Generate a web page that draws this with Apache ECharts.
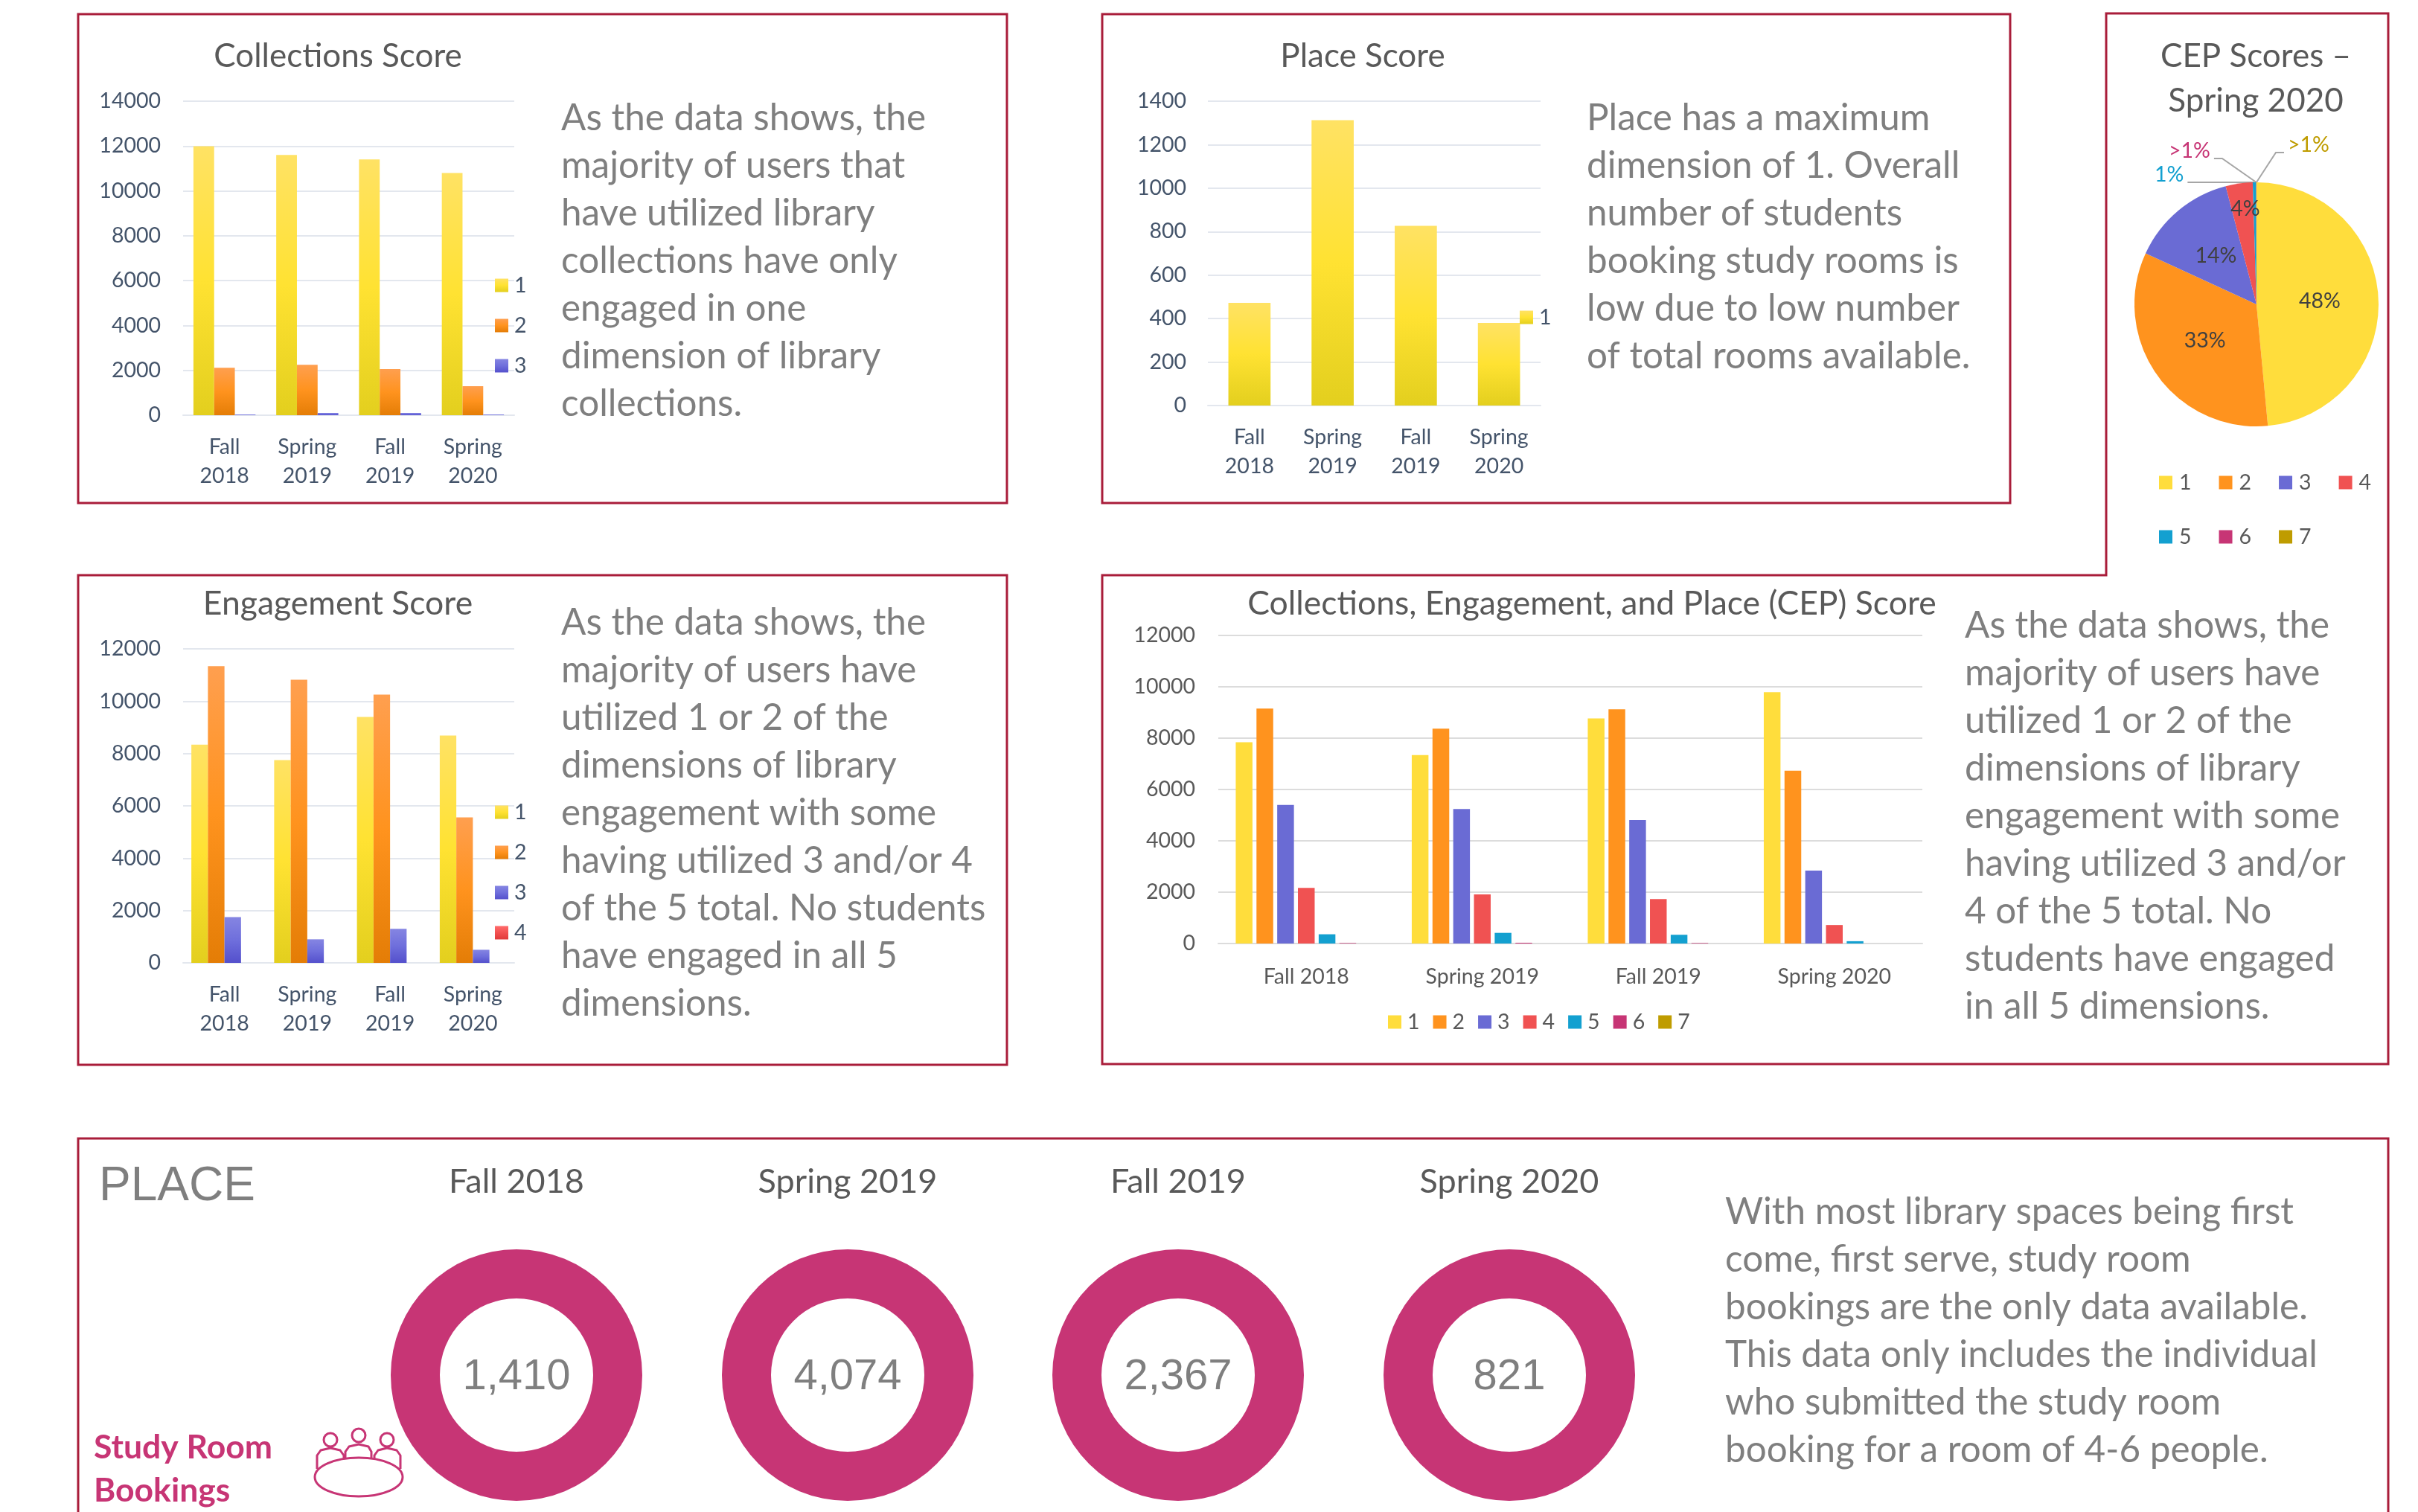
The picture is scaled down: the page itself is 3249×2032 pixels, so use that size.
<!DOCTYPE html>
<html>
<head>
<meta charset="utf-8">
<title>Library CEP scores</title>
<script src="https://cdn.jsdelivr.net/npm/echarts@6/dist/echarts.min.js"></script>
<style>
    html, body { margin: 0; padding: 0; background: #fff; }
    #main { width: 3249px; height: 2032px; }
</style>
</head>
<body>
<div id="main"></div>
<script>
    // 数据
    const terms = ['Fall 2018', 'Spring 2019', 'Fall 2019', 'Spring 2020'];
    const collectionsNames = ['1', '2', '3'];
    const collections1 = [11990, 11600, 11400, 10800];
    const collections2 = [2115, 2250, 2060, 1290];
    const collections3 = [30, 100, 100, 30];
    const placeNames = ['1'];
    const place1 = [472, 1313, 827, 380];
    const engagementNames = ['1', '2', '3', '4'];
    const engagement1 = [8340, 7750, 9400, 8690];
    const engagement2 = [11340, 10820, 10250, 5560];
    const engagement3 = [1750, 900, 1300, 500];
    const engagement4 = [0, 0, 0, 0];
    const cepNames = ['1', '2', '3', '4', '5', '6', '7'];
    const cep1 = [7840, 7340, 8770, 9790];
    const cep2 = [9150, 8370, 9120, 6730];
    const cep3 = [5400, 5240, 4810, 2840];
    const cep4 = [2170, 1910, 1730, 720];
    const cep5 = [360, 415, 340, 90];
    const cep6 = [20, 30, 20, 0];
    const cep7 = [0, 0, 0, 0];
    const pieValues = [9790, 6730, 2840, 720, 90, 8, 2];
    const pieLabels = ['48%', '33%', '14%', '4%', '1%', '>1%', '>1%'];
    const bookings = [1410, 4074, 2367, 821];

    const collectionsText = ['As the data shows, the', 'majority of users that', 'have utilized library', 'collections have only', 'engaged in one', 'dimension of library', 'collections.'];
    const placeText = ['Place has a maximum', 'dimension of 1. Overall', 'number of students', 'booking study rooms is', 'low due to low number', 'of total rooms available.'];
    const engagementText = ['As the data shows, the', 'majority of users have', 'utilized 1 or 2 of the', 'dimensions of library', 'engagement with some', 'having utilized 3 and/or 4', 'of the 5 total. No students', 'have engaged in all 5', 'dimensions.'];
    const cepText = ['As the data shows, the', 'majority of users have', 'utilized 1 or 2 of the', 'dimensions of library', 'engagement with some', 'having utilized 3 and/or', '4 of the 5 total. No', 'students have engaged', 'in all 5 dimensions.'];
    const placeBottomText = ['With most library spaces being first', 'come, first serve, study room', 'bookings are the only data available.', 'This data only includes the individual', 'who submitted the study room', 'booking for a room of 4-6 people.'];

    // 颜色
    const FONT = 'Lato';
    const colors = ['#FFDD3C', '#FF931E', '#6A6BD4', '#F05252', '#13A0D0', '#C73575', '#BF9C00'];
    const gradStops = [
        ['#FFE264', '#FFE232', '#E3CF1E'],
        ['#FF9F4F', '#FF931E', '#E47D06'],
        ['#8585E2', '#6F6FDC', '#5450CC'],
        ['#FF6B6B', '#F25050', '#E03A3A']
    ];
    const BORDER = '#A91D3A';
    const MAGENTA = '#C73575';
    const SLATE = '#44546A';
    const TITLE_GREY = '#595959';
    const TEXT_GREY = '#7F7F7F';

    function grad(i) {
        let s = gradStops[i];
        return {
            type: 'linear', x: 0, y: 0, x2: 0, y2: 1,
            colorStops: [{ offset: 0, color: s[0] }, { offset: 0.5, color: s[1] }, { offset: 1, color: s[2] }]
        };
    }

    const grids = [], xAxes = [], yAxes = [], series = [], legends = [], titles = [];

    // 柱状图面板
    function addBars(cfg) {
        let idx = grids.length;
        grids.push({ left: cfg.left, top: cfg.top, width: cfg.width, height: cfg.height, containLabel: false });
        xAxes.push({
            type: 'category', gridIndex: idx, data: terms,
            axisTick: { show: false },
            axisLine: { lineStyle: { color: cfg.gridColor, width: 2 } },
            axisLabel: {
                interval: 0, color: cfg.labelColor, fontFamily: FONT, fontSize: 28.5,
                lineHeight: 39, margin: cfg.xMargin,
                formatter: cfg.wrap ? (v) => v.replace(' ', '\n') : (v) => v
            }
        });
        yAxes.push({
            type: 'value', gridIndex: idx, min: 0, max: cfg.max, interval: cfg.interval,
            axisLine: { show: false }, axisTick: { show: false },
            axisLabel: { color: cfg.labelColor, fontFamily: FONT, fontSize: 28.5, margin: cfg.yMargin, formatter: (v) => String(v) },
            splitLine: { lineStyle: { color: cfg.gridColor, width: 2 } }
        });
        cfg.values.forEach((vals, i) => {
            series.push({
                type: 'bar', name: cfg.names[i], xAxisIndex: idx, yAxisIndex: idx,
                data: vals, barWidth: cfg.barWidth, barGap: cfg.barGap,
                itemStyle: { color: cfg.flat ? colors[i] : grad(i) },
                silent: true
            });
        });
        legends.push(Object.assign({
            data: cfg.names.map((n, i) => ({ name: n, itemStyle: { color: cfg.flat ? colors[i] : grad(i) } })),
            itemWidth: 18, itemHeight: 18, itemGap: cfg.legendGap, icon: 'rect',
            selectedMode: false, padding: 0,
            textStyle: { color: cfg.labelColor, fontFamily: FONT, fontSize: 28.5, padding: [0, 0, 0, 3] }
        }, cfg.legend));
    }

    addBars({
        left: 246, top: 136, width: 445, height: 422, max: 14000, interval: 2000,
        names: collectionsNames, values: [collections1, collections2, collections3],
        barWidth: '25%', barGap: 0, gridColor: '#E3E7EE', labelColor: SLATE,
        wrap: true, xMargin: 23, yMargin: 30,
        legend: { left: 665, top: 369, orient: 'vertical' }, legendGap: 25
    });
    addBars({
        left: 1623, top: 136, width: 447, height: 409, max: 1400, interval: 200,
        names: placeNames, values: [place1],
        barWidth: '50.7%', barGap: 0, gridColor: '#E3E7EE', labelColor: SLATE,
        wrap: true, xMargin: 23, yMargin: 29,
        legend: { left: 2042, top: 412, orient: 'vertical' }, legendGap: 25
    });
    addBars({
        left: 246, top: 872, width: 445, height: 422, max: 12000, interval: 2000,
        names: engagementNames, values: [engagement1, engagement2, engagement3, engagement4],
        barWidth: '20%', barGap: 0, gridColor: '#E3E7EE', labelColor: SLATE,
        wrap: true, xMargin: 23, yMargin: 30,
        legend: { left: 665, top: 1077, orient: 'vertical' }, legendGap: 25
    });
    addBars({
        left: 1637, top: 854, width: 946, height: 414, max: 12000, interval: 2000,
        names: cepNames, values: [cep1, cep2, cep3, cep4, cep5, cep6, cep7],
        barWidth: '9.5%', barGap: '24%', gridColor: '#DCDCDC', labelColor: TITLE_GREY,
        flat: true, wrap: false, xMargin: 25, yMargin: 31,
        legend: { left: 1865, top: 1359, orient: 'horizontal' }, legendGap: 18
    });

    // CEP 饼图
    series.push({
        type: 'pie', name: 'CEP Scores', center: [3032, 409], radius: [0, 164],
        startAngle: 90, clockwise: true, silent: true, animation: false,
        data: pieValues.map((v, i) => {
            let outside = i > 3;
            let item = {
                name: cepNames[i], value: v,
                itemStyle: { color: colors[i] },
                label: {
                    position: outside ? 'outside' : 'inside',
                    formatter: pieLabels[i],
                    color: outside ? colors[i] : '#404040',
                    fontFamily: FONT, fontSize: 28.5
                },
                labelLine: {
                    show: outside, length2: i === 4 ? 0 : 11,
                    minTurnAngle: 0, maxSurfaceAngle: 180,
                    lineStyle: { color: '#A6A6A6', width: 2 }
                }
            };
            // 外部标签: 多一个空行, 文字在引线上方
            if (outside) {
                item.label.formatter = pieLabels[i] + '\n ';
                item.label.lineHeight = 20;
                item.label.padding = [0, 5, 0, 5];
            }
            // 4% 标签靠外
            if (i === 3) {
                item.label.offset = [-3, -44];
            }
            return item;
        }),
        labelLayout: (params) => {
            if (params.dataIndex === 4) return { x: 2890, y: 245, align: 'left', verticalAlign: 'middle' };
            if (params.dataIndex === 5) return { x: 2909, y: 213, align: 'left', verticalAlign: 'middle' };
            if (params.dataIndex === 6) return { x: 3069, y: 205, align: 'left', verticalAlign: 'middle' };
        }
    });
    // 图例分两行
    [[0, 4, 634], [4, 7, 707]].forEach((row) => {
        legends.push({
            data: cepNames.slice(row[0], row[1]).map((n, i) => ({ name: n, itemStyle: { color: colors[row[0] + i] } })),
            left: 2901, top: row[2], itemWidth: 18, itemHeight: 18, itemGap: 37, icon: 'rect',
            selectedMode: false, padding: 0,
            textStyle: { color: TITLE_GREY, fontFamily: FONT, fontSize: 28.5, padding: [0, 0, 0, 4] }
        });
    });

    // 预约环形图
    const ringCentersX = [694, 1139, 1583, 2028];
    bookings.forEach((v, i) => {
        series.push({
            type: 'pie', name: 'Bookings ' + terms[i], center: [ringCentersX[i], 1848], radius: [103, 169],
            silent: true, animation: false,
            data: [{ name: terms[i], value: v }],
            itemStyle: { color: MAGENTA },
            label: {
                position: 'center', formatter: v.toLocaleString('en-US'),
                color: TEXT_GREY, fontFamily: 'Liberation Sans', fontSize: 58, offset: [0, 3]
            },
            labelLine: { show: false }
        });
    });

    // 标题
    function addTitle(text, cx, cy, size) {
        titles.push({
            text: text, left: cx, top: cy, textAlign: 'center', textVerticalAlign: 'middle', padding: 0,
            textStyle: { color: TITLE_GREY, fontFamily: FONT, fontWeight: 'normal', fontSize: size, lineHeight: 60 }
        });
    }
    addTitle('Collections Score', 454, 76, 44);
    addTitle('Place Score', 1831, 76, 44);
    addTitle('Engagement Score', 454, 812, 44.5);
    addTitle('Collections, Engagement, and Place (CEP) Score', 2139, 812, 44.5);
    addTitle('CEP Scores –\nSpring 2020', 3031, 106, 44);
    terms.forEach((t, i) => addTitle(t, ringCentersX[i], 1588, 45));

    // 边框和段落
    function para(lines, x, y, color) {
        return {
            type: 'text', silent: true, z: 5,
            style: {
                text: lines.join('\n'), x: x, y: y, fill: color || TEXT_GREY,
                fontFamily: FONT, fontSize: 49.4, lineHeight: 64, verticalAlign: 'top'
            }
        };
    }
    function frame(points, closed) {
        return {
            type: closed ? 'polygon' : 'polyline', silent: true, z: 0,
            shape: { points: points },
            style: { stroke: BORDER, lineWidth: 3, fill: closed ? 'none' : null }
        };
    }
    function iconLine(points) {
        return {
            type: 'polyline', silent: true, z: 5, shape: { points: points },
            style: { stroke: MAGENTA, lineWidth: 3, fill: null, lineJoin: 'round' }
        };
    }
    function iconEllipse(cx, cy, rx, ry) {
        return {
            type: 'ellipse', silent: true, z: 5, shape: { cx: cx, cy: cy, rx: rx, ry: ry },
            style: { stroke: MAGENTA, lineWidth: 3, fill: '#fff' }
        };
    }

    const graphics = [
        frame([[105, 19], [1353, 19], [1353, 676], [105, 676]], true),
        frame([[1481, 19], [2701, 19], [2701, 676], [1481, 676]], true),
        frame([[105, 773], [1353, 773], [1353, 1431], [105, 1431]], true),
        frame([[1481, 773], [2830, 773], [2830, 18], [3209, 18], [3209, 1430], [1481, 1430]], true),
        frame([[105, 2040], [105, 1530], [3209, 1530], [3209, 2040]], false),
        para(collectionsText, 754, 127),
        para(placeText, 2132, 127),
        para(engagementText, 754, 805),
        para(cepText, 2640, 809),
        para(placeBottomText, 2318, 1597),
        {
            type: 'text', silent: true, z: 5,
            style: { text: 'PLACE', x: 133, y: 1595, fill: TEXT_GREY, fontFamily: 'Liberation Sans', fontSize: 64, verticalAlign: 'middle' }
        },
        {
            type: 'text', silent: true, z: 5,
            style: { text: 'Study Room\nBookings', x: 126, y: 1917, fill: MAGENTA, fontFamily: FONT, fontWeight: 'bold', fontSize: 44.5, lineHeight: 58, verticalAlign: 'top' }
        },
        // 图标: 会议桌
        iconLine([[426, 1974], [426, 1956], [431, 1949], [444, 1946], [457, 1949], [462, 1956], [462, 1962]]),
        iconLine([[464, 1960], [464, 1951], [469, 1944], [482, 1941], [495, 1944], [499, 1951], [499, 1960]]),
        iconLine([[503, 1962], [503, 1956], [508, 1949], [520, 1946], [533, 1949], [538, 1956], [538, 1974]]),
        iconEllipse(444, 1935, 9, 9),
        iconEllipse(482, 1929, 9, 9),
        iconEllipse(520, 1935, 9, 9),
        iconEllipse(482, 1985, 59, 26)
    ];

    let myChart = echarts.init(document.getElementById('main'));
    myChart.setOption({
        animation: false,
        backgroundColor: '#fff',
        textStyle: { fontFamily: FONT },
        title: titles,
        grid: grids,
        xAxis: xAxes,
        yAxis: yAxes,
        legend: legends,
        series: series,
        graphic: { elements: graphics }
    });
</script>
</body>
</html>
